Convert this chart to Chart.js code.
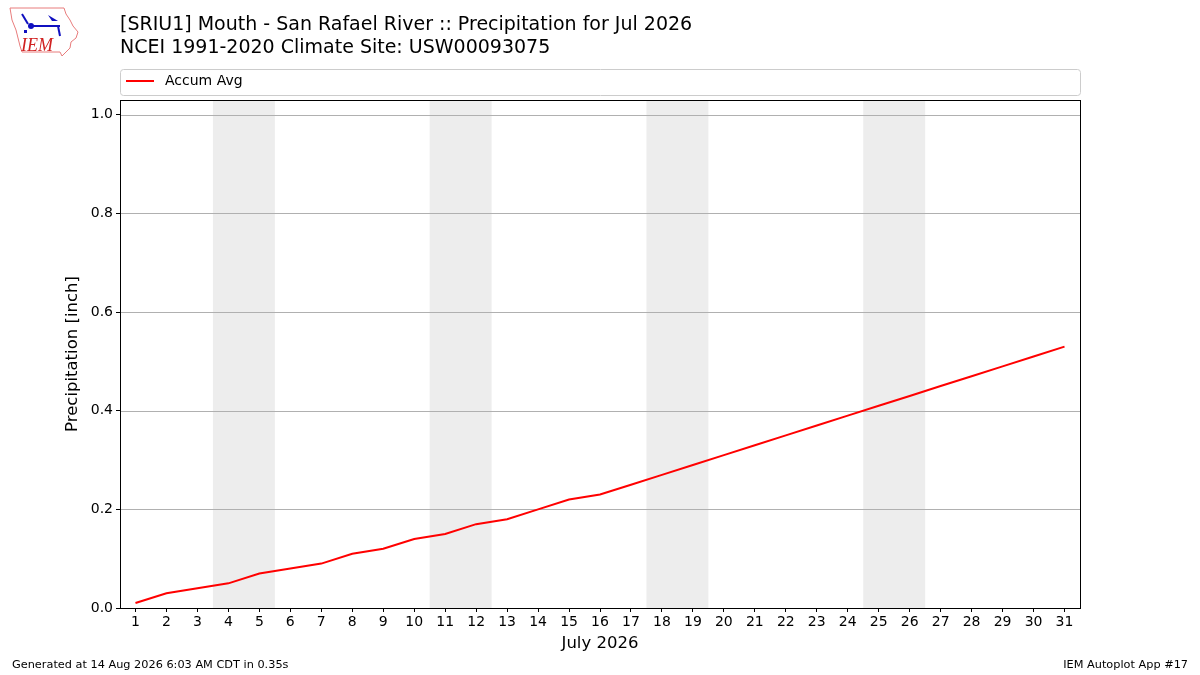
<!DOCTYPE html>
<html><head><meta charset="utf-8">
<script src="https://cdn.jsdelivr.net/npm/chart.js@4/dist/chart.umd.min.js"></script>
<style>html,body{margin:0;padding:0;background:#fff;}#wrap{width:1200px;height:675px;position:relative;}</style>
</head><body><div id="wrap"><canvas id="c" width="1200" height="675"></canvas></div>
<script>
const days = [1,2,3,4,5,6,7,8,9,10,11,12,13,14,15,16,17,18,19,20,21,22,23,24,25,26,27,28,29,30,31];
const accumAvg = [0.01,0.03,0.04,0.05,0.07,0.08,0.09,0.11,0.12,0.14,0.15,0.17,0.18,0.20,0.22,0.23,0.25,0.27,0.29,0.31,0.33,0.35,0.37,0.39,0.41,0.43,0.45,0.47,0.49,0.51,0.53];
const weekendBands = [[3.5,5.5],[10.5,12.5],[17.5,19.5],[24.5,26.5]];
const yTicks = [0,0.2,0.4,0.6,0.8,1.0];
const titleLines = ["[SRIU1] Mouth - San Rafael River :: Precipitation for Jul 2026","NCEI 1991-2020 Climate Site: USW00093075"];
const seriesName = "Accum Avg";
const xTitle = "July 2026";
const yTitle = "Precipitation [inch]";
const footerLeft = "Generated at 14 Aug 2026 6:03 AM CDT in 0.35s";
const footerRight = "IEM Autoplot App #17";

const FONT = "'DejaVu Sans', sans-serif";

const decor = {
  id:'decor',
  beforeDatasetsDraw(chart){
    const {ctx, chartArea:a, scales:{x}} = chart;
    ctx.save();
    ctx.fillStyle = '#ededed';
    weekendBands.forEach(b=>{
      const x0 = x.getPixelForValue(b[0]), x1 = x.getPixelForValue(b[1]);
      ctx.fillRect(x0, a.top, x1-x0, a.bottom-a.top);
    });
    const y = chart.scales.y;
    ctx.strokeStyle = '#b0b0b0'; ctx.lineWidth = 1;
    yTicks.forEach(v=>{
      const py = Math.round(y.getPixelForValue(v))+0.5;
      ctx.beginPath(); ctx.moveTo(a.left,py); ctx.lineTo(a.right,py); ctx.stroke();
    });
    ctx.restore();
  },
  afterDraw(chart){
    const {ctx, chartArea:a} = chart;
    ctx.save();
    ctx.strokeStyle = '#000'; ctx.lineWidth = 1;
    ctx.strokeRect(Math.round(a.left)+0.5, Math.round(a.top)+0.5, Math.round(a.right-a.left), Math.round(a.bottom-a.top));
    ctx.fillStyle = '#000';
    ctx.font = "19px " + FONT;
    ctx.textBaseline = 'middle'; ctx.textAlign = 'left';
    ctx.fillText(titleLines[0], 120, 25);
    ctx.fillText(titleLines[1], 120, 48);
    // axis titles
    ctx.font = "16.5px " + FONT;
    ctx.textAlign = 'center';
    ctx.fillText(xTitle, (a.left+a.right)/2, 644);
    ctx.save();
    ctx.translate(73, (a.top+a.bottom)/2);
    ctx.rotate(-Math.PI/2);
    ctx.fillText(yTitle, 0, 0);
    ctx.restore();
    // legend
    ctx.strokeStyle = '#cccccc';
    ctx.beginPath();
    if (ctx.roundRect) ctx.roundRect(120.5, 69.5, 960, 26, 3); else ctx.rect(120.5,69.5,960,26);
    ctx.stroke();
    ctx.strokeStyle = 'red'; ctx.lineWidth = 2;
    ctx.beginPath(); ctx.moveTo(126, 81); ctx.lineTo(154, 81); ctx.stroke();
    ctx.fillStyle = '#000';
    ctx.textAlign = 'left';
    ctx.font = "14px " + FONT;
    ctx.fillText(seriesName, 165, 81.5);
    ctx.font = "11.3px " + FONT;
    ctx.fillText(footerLeft, 12, 665);
    ctx.textAlign = 'right';
    ctx.fillText(footerRight, 1188, 665);
    drawLogo(ctx);
    ctx.restore();
  }
};

function drawLogo(ctx){
  ctx.save();
  ctx.strokeStyle = '#e87c7c'; ctx.lineWidth = 1;
  ctx.beginPath();
  ctx.moveTo(10,8); ctx.lineTo(64,8); ctx.lineTo(66,14); ctx.lineTo(70,20);
  ctx.lineTo(73,26); ctx.lineTo(78,32); ctx.lineTo(76,38); ctx.lineTo(71,42);
  ctx.lineTo(70,48); ctx.lineTo(66,52); ctx.lineTo(62,56); ctx.lineTo(60,52);
  ctx.lineTo(22,52); ctx.lineTo(20,46); ctx.lineTo(18,38); ctx.lineTo(16,30);
  ctx.lineTo(12,20); ctx.closePath(); ctx.stroke();
  ctx.fillStyle = '#1010c0'; ctx.strokeStyle = '#1010c0'; ctx.lineWidth = 2;
  ctx.beginPath(); ctx.moveTo(30,26); ctx.lineTo(60,26); ctx.stroke();
  ctx.beginPath(); ctx.arc(31,26,3,0,Math.PI*2); ctx.fill();
  ctx.beginPath(); ctx.moveTo(22,14); ctx.lineTo(28,24); ctx.stroke();
  ctx.beginPath(); ctx.moveTo(48,15); ctx.lineTo(58,21); ctx.lineTo(52,21); ctx.closePath(); ctx.fill();
  ctx.beginPath(); ctx.moveTo(58,26); ctx.lineTo(60,36); ctx.stroke();
  ctx.fillRect(24,30,3,3);
  ctx.fillStyle = '#d02020';
  ctx.font = "italic 18px 'Liberation Serif', serif";
  ctx.textAlign='left'; ctx.textBaseline='alphabetic';
  ctx.fillText('IEM', 21, 51);
  ctx.restore();
}

new Chart(document.getElementById('c'), {
  type:'line',
  data:{ datasets:[{ label: seriesName, data: days.map((d,i)=>({x:d,y:accumAvg[i]})), borderColor:'red', borderWidth:2, pointRadius:0, tension:0, fill:false }]},
  options:{
    responsive:false, animation:false, devicePixelRatio:1,
    layout:{ padding:{ left:0, top:100, right:120, bottom:0 } },
    plugins:{ legend:{display:false}, title:{display:false}, tooltip:{enabled:false} },
    scales:{
      x:{ type:'linear', min:0.5, max:31.5,
        afterBuildTicks(s){ s.ticks = days.map(v=>({value:v})); },
        afterFit(s){ s.height = 67; },
        grid:{ drawOnChartArea:false, tickLength:4, tickColor:'#000' },
        border:{ display:false },
        ticks:{ color:'#000', font:{family:FONT, size:14}, padding:2, maxRotation:0, autoSkip:false, callback:v=>String(v) }
      },
      y:{ min:0, max:1.03,
        afterBuildTicks(s){ s.ticks = yTicks.map(v=>({value:v})); },
        afterFit(s){ s.width = 120; },
        grid:{ drawOnChartArea:false, tickLength:4, tickColor:'#000' },
        border:{ display:false },
        ticks:{ color:'#000', font:{family:FONT, size:14}, padding:3, callback:v=>Number(v).toFixed(1) }
      }
    }
  },
  plugins:[decor]
});
</script></body></html>
